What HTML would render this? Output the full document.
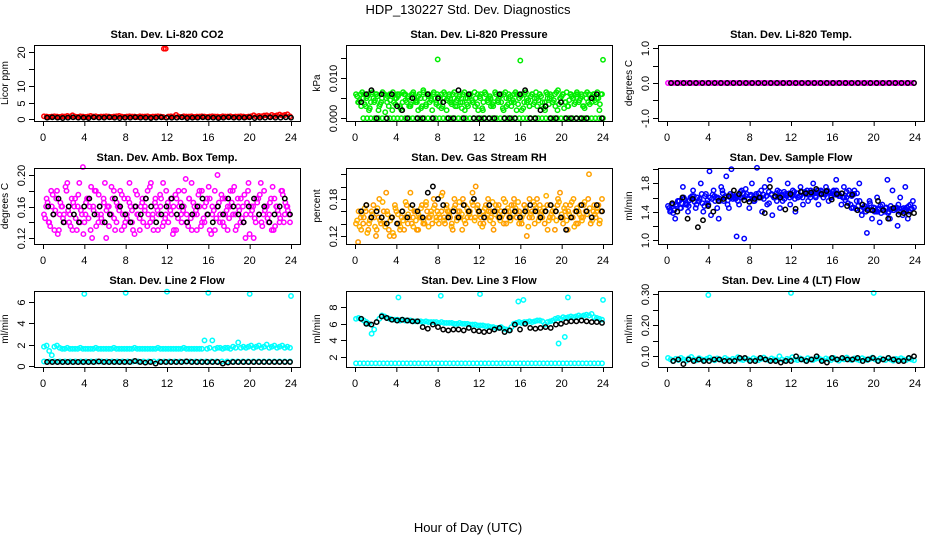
<!DOCTYPE html>
<html><head><meta charset="utf-8"><style>
html,body{margin:0;padding:0;background:#fff}
svg{display:block;font-family:"Liberation Sans",Arial,sans-serif}
</style></head><body>
<svg id="chart" width="936" height="540" viewBox="0 0 936 540" xmlns="http://www.w3.org/2000/svg">
<text x="468" y="14" text-anchor="middle" font-size="13">HDP_130227  Std. Dev. Diagnostics</text>
<text x="468" y="532" text-anchor="middle" font-size="13">Hour of Day (UTC)</text>
</svg>
<script>
const xTicks=[0,4,8,12,16,20,24];
// P1 CO2
const co2Red=[0.9,0.8,0.7,0.8,0.9,0.8,0.7,0.9,0.8,1.0,0.8,1.2,0.8,0.7,0.9,0.8,0.7,0.8,1.0,0.8,0.9,0.7,0.8,0.8,0.9,0.8,0.7,0.8,0.9,1.0,0.8,0.7,0.8,0.9,0.8,0.8,0.7,0.9,0.8,0.8,0.9,0.7,0.8,0.8,0.9,0.8,0.7,21.1,0.8,0.9,0.8,1.3,0.8,0.7,0.9,0.8,0.8,0.9,0.7,0.8,0.8,0.9,0.8,0.7,0.8,0.9,0.8,0.8,0.7,0.9,0.8,0.8,0.9,0.7,0.8,0.8,0.9,0.8,0.7,0.8,0.9,1.2,0.8,1.0,0.9,1.1,1.2,0.9,1.3,1.0,1.2,1.4,1.1,1.3,1.5,0.9];
const co2Black=[0.5,0.6,0.5,0.4,0.5,0.6,0.5,0.5,0.4,0.6,0.5,0.5,0.6,0.5,0.4,0.5,0.5,0.6,0.5,0.5,0.4,0.5,0.6,0.5,0.5,0.5,0.6,0.4,0.5,0.5,0.6,0.5,0.5,0.4,0.5,0.6,0.5,0.5,0.5,0.6,0.4,0.5,0.5,0.6,0.5,0.5,0.6,0.5];
// P2 Pressure
const presGreenA=[0.006,0.004,0.003,0.006,0.005,0.002,0.006,0.004,0.006,0.003,0.005,0.006,0.004,0.006,0.002,0.005,0.006,0.003,0.004,0.006,0.005,0.003,0.006,0.004,0.002,0.005,0.007,0.003,0.006,0.005,0.006,0.004,0.003,0.006,0.005,0.002,0.006,0.004,0.005,0.003,0.006,0.004,0.002,0.005,0.006,0.004,0.003,0.006,0.005,0.002,0.006,0.004,0.005,0.003,0.006,0.004,0.006,0.002,0.005,0.006,0.003,0.004,0.006,0.005,0.002,0.006,0.004,0.003,0.006,0.005,0.003,0.006,0.004,0.002,0.005,0.006,0.004,0.003,0.007,0.005,0.006,0.004,0.003,0.006,0.005,0.006,0.004,0.006,0.003,0.005,0.006,0.004,0.006,0.005,0.002,0.006];
const presGreenB=[0.004,0.006,0.005,0.003,0.006,0.004,0.005,0.006,0.002,0.004,0.006,0.005,0.003,0.006,0.004,0.005,0.006,0.002,0.006,0.004,0.003,0.006,0.005,0.004,0.006,0.003,0.005,0.006,0.004,0.002,0.005,0.006,0.004,0.003,0.006,0.005,0.004,0.006,0.003,0.005,0.004,0.006,0.005,0.003,0.006,0.004,0.005,0.002,0.006,0.004,0.006,0.005,0.003,0.004,0.006,0.005,0.004,0.006,0.003,0.005,0.004,0.006,0.002,0.005,0.006,0.004,0.005,0.003,0.006,0.004,0.005,0.006,0.003,0.004,0.006,0.005,0.004,0.006,0.002,0.005,0.006,0.004,0.003,0.006,0.005,0.004,0.006,0.005,0.003,0.006,0.004,0.005,0.006,0.004,0.005,0.006];
const presGreenC=[0.0055,0.0045,0.0065,0.0035,0.0055,0.0025,0.0065,0.0045,0.0055,0.0035,0.0065,0.0015,0.0055,0.0045,0.0065,0.0035,0.0055,0.0025,0.0065,0.0045,0.0055,0.0035,0.0065,0.0045,0.0055,0.0025,0.0065,0.0035,0.0055,0.0045,0.0065,0.0035,0.0055,0.0025,0.0065,0.0045,0.0055,0.0035,0.0065,0.0045,0.0055,0.0025,0.0065,0.0035,0.0055,0.0045,0.0065,0.0035,0.0055,0.0025,0.0065,0.0045,0.0055,0.0035,0.0065,0.0045,0.0055,0.0025,0.0065,0.0035,0.0055,0.0045,0.0065,0.0035,0.0055,0.0025,0.0065,0.0045,0.0055,0.0035,0.0065,0.0045,0.0055,0.0025,0.0065,0.0035,0.0055,0.0045,0.0065,0.0035,0.0055,0.0025,0.0065,0.0045,0.0055,0.0035,0.0065,0.0045,0.0055,0.0025,0.0065,0.0035,0.0055,0.0045,0.0065,0.0035];
const presGreenZero=[0,0,0,0,0,0,0,0,0,0,0,0,0,0,0,0,0,0,0,0,0,0,0,0,0,0,0,0,0,0,0,0,0,0,0,0,0,0,0,0,0,0,0,0,0,0,0,0,0,0,0,0,0,0,0,0,0,0,0,0,0,0,0,0];
const presOutHours=[8,16,24];
const presOutVals=[0.0147,0.0144,0.0146];
const presBlack=[0.004,0.006,0.007,0,0.006,0,0.006,0.003,0.002,0,0.005,0,0,0.006,0,0.005,0.004,0,0,0.007,0,0.006,0,0,0,0,0,0.006,0,0,0,0.006,0.007,0,0,0.002,0.003,0,0,0.004,0,0,0,0,0,0.005,0.006,0];
// P3 Temp
const tempMag=[0,0,0,0,0,0,0,0,0,0,0,0,0,0,0,0,0,0,0,0,0,0,0,0,0,0,0,0,0,0,0,0,0,0,0,0,0,0,0,0,0,0,0,0,0,0,0,0,0,0,0,0,0,0,0,0,0,0,0,0,0,0,0,0,0,0,0,0,0,0,0,0,0,0,0,0,0,0,0,0,0,0,0,0,0,0,0,0,0,0,0,0,0,0,0,0];
const tempBlack=[0,0,0,0,0,0,0,0,0,0,0,0,0,0,0,0,0,0,0,0,0,0,0,0,0,0,0,0,0,0,0,0,0,0,0,0,0,0,0,0];
// P4 Amb box temp
const ambA=[0.15,0.17,0.14,0.16,0.13,0.18,0.15,0.16,0.14,0.19,0.15,0.13,0.17,0.16,0.14,0.21,0.15,0.17,0.13,0.16,0.18,0.14,0.15,0.17,0.12,0.16,0.15,0.18,0.14,0.16,0.13,0.17,0.15,0.19,0.14,0.16,0.15,0.13,0.17,0.16,0.18,0.14,0.15,0.17,0.13,0.16,0.19,0.15,0.14,0.17,0.16,0.13,0.18,0.15,0.16,0.14,0.17,0.19,0.15,0.13,0.16,0.18,0.14,0.15,0.17,0.16,0.13,0.20,0.15,0.14,0.17,0.16,0.18,0.15,0.13,0.16,0.17,0.14,0.15,0.19,0.16,0.12,0.17,0.15,0.14,0.18,0.16,0.15,0.13,0.17,0.16,0.14,0.18,0.15,0.16,0.14];
const ambB=[0.16,0.14,0.18,0.15,0.17,0.13,0.16,0.15,0.18,0.14,0.17,0.16,0.13,0.19,0.15,0.14,0.17,0.16,0.12,0.18,0.15,0.16,0.14,0.19,0.16,0.15,0.17,0.13,0.16,0.18,0.15,0.14,0.17,0.16,0.13,0.18,0.15,0.16,0.14,0.17,0.15,0.19,0.13,0.16,0.15,0.17,0.14,0.18,0.16,0.15,0.13,0.17,0.16,0.14,0.18,0.15,0.17,0.13,0.16,0.15,0.18,0.14,0.16,0.17,0.13,0.15,0.18,0.16,0.14,0.17,0.15,0.13,0.16,0.18,0.15,0.17,0.14,0.16,0.12,0.18,0.15,0.16,0.14,0.17,0.19,0.15,0.16,0.14,0.17,0.13,0.16,0.15,0.18,0.14,0.16,0.15];
const ambC=[0.145,0.165,0.135,0.175,0.155,0.125,0.165,0.145,0.185,0.155,0.135,0.165,0.145,0.175,0.155,0.125,0.165,0.145,0.185,0.155,0.135,0.175,0.145,0.165,0.155,0.135,0.185,0.145,0.165,0.155,0.175,0.135,0.145,0.165,0.155,0.125,0.175,0.145,0.165,0.155,0.135,0.185,0.145,0.165,0.155,0.175,0.135,0.145,0.165,0.155,0.125,0.175,0.145,0.165,0.155,0.195,0.135,0.145,0.165,0.155,0.175,0.135,0.145,0.165,0.185,0.125,0.155,0.145,0.165,0.175,0.135,0.155,0.145,0.165,0.185,0.135,0.155,0.145,0.175,0.165,0.125,0.155,0.145,0.165,0.175,0.135,0.155,0.145,0.165,0.185,0.135,0.155,0.145,0.175,0.165,0.155];
const ambBlack=[0.16,0.15,0.17,0.14,0.16,0.15,0.14,0.16,0.17,0.15,0.16,0.14,0.15,0.17,0.16,0.15,0.14,0.16,0.15,0.17,0.16,0.14,0.15,0.16,0.17,0.15,0.16,0.14,0.15,0.16,0.17,0.15,0.14,0.16,0.15,0.17,0.16,0.15,0.14,0.16,0.17,0.15,0.16,0.14,0.15,0.16,0.17,0.15];
// P5 RH
const rhA=[0.14,0.16,0.13,0.15,0.17,0.14,0.16,0.15,0.13,0.18,0.15,0.14,0.16,0.12,0.15,0.17,0.14,0.13,0.16,0.15,0.14,0.19,0.15,0.16,0.13,0.15,0.14,0.17,0.15,0.16,0.18,0.15,0.14,0.16,0.15,0.17,0.16,0.14,0.18,0.15,0.16,0.13,0.17,0.15,0.16,0.19,0.15,0.17,0.14,0.16,0.15,0.18,0.16,0.14,0.17,0.15,0.16,0.18,0.14,0.16,0.15,0.17,0.16,0.14,0.15,0.17,0.16,0.18,0.15,0.14,0.16,0.17,0.15,0.16,0.13,0.17,0.15,0.16,0.18,0.15,0.14,0.17,0.16,0.15,0.18,0.14,0.16,0.15,0.17,0.16,0.22,0.15,0.17,0.16,0.14,0.18];
const rhB=[0.11,0.15,0.14,0.16,0.13,0.15,0.17,0.12,0.15,0.14,0.16,0.19,0.13,0.15,0.12,0.16,0.14,0.15,0.13,0.17,0.15,0.14,0.16,0.13,0.15,0.17,0.14,0.16,0.15,0.14,0.17,0.16,0.15,0.19,0.14,0.16,0.15,0.13,0.17,0.16,0.15,0.18,0.14,0.16,0.15,0.17,0.20,0.16,0.15,0.14,0.17,0.16,0.15,0.13,0.16,0.17,0.15,0.14,0.16,0.15,0.17,0.18,0.15,0.16,0.14,0.17,0.12,0.15,0.16,0.17,0.18,0.15,0.16,0.14,0.17,0.15,0.16,0.13,0.17,0.19,0.15,0.16,0.13,0.17,0.15,0.16,0.14,0.17,0.15,0.16,0.18,0.14,0.16,0.15,0.17,0.16];
const rhC=[0.145,0.135,0.155,0.165,0.125,0.145,0.155,0.135,0.165,0.145,0.175,0.135,0.155,0.145,0.125,0.165,0.155,0.135,0.145,0.175,0.155,0.165,0.135,0.145,0.155,0.165,0.145,0.175,0.135,0.155,0.165,0.145,0.155,0.185,0.145,0.165,0.155,0.135,0.165,0.145,0.175,0.155,0.145,0.165,0.155,0.175,0.145,0.165,0.155,0.135,0.165,0.155,0.145,0.175,0.155,0.165,0.145,0.155,0.175,0.165,0.145,0.155,0.165,0.175,0.145,0.155,0.165,0.135,0.155,0.175,0.165,0.145,0.155,0.165,0.185,0.145,0.155,0.165,0.145,0.175,0.155,0.165,0.145,0.155,0.175,0.135,0.165,0.155,0.145,0.175,0.155,0.165,0.145,0.155,0.165,0.145];
const rhBlack=[0.16,0.17,0.15,0.16,0.15,0.14,0.15,0.14,0.16,0.15,0.17,0.16,0.15,0.19,0.20,0.18,0.17,0.15,0.16,0.15,0.17,0.16,0.18,0.16,0.15,0.17,0.16,0.15,0.16,0.15,0.16,0.15,0.16,0.17,0.16,0.15,0.16,0.17,0.16,0.15,0.13,0.15,0.16,0.17,0.16,0.15,0.17,0.16];
// P6 Sample flow
const flowA=[1.48,1.42,1.38,1.5,1.55,1.45,1.6,1.52,1.48,1.58,1.62,1.5,1.55,1.65,1.48,1.52,1.97,1.58,1.62,1.45,1.55,1.7,1.6,1.5,1.65,1.58,1.62,1.55,1.68,1.6,1.72,1.58,1.62,1.55,1.65,1.6,1.7,1.58,1.62,1.52,1.65,1.6,1.55,1.68,1.62,1.58,1.65,1.6,1.62,1.58,1.66,1.62,1.6,1.68,1.64,1.6,1.66,1.62,1.7,1.64,1.6,1.66,1.68,1.62,1.65,1.7,1.62,1.66,1.6,1.68,1.64,1.62,1.7,1.66,1.55,1.5,1.48,1.45,1.52,1.42,1.45,1.4,1.48,1.42,1.45,1.38,1.48,1.42,1.45,1.5,1.4,1.45,1.42,1.48,1.44,1.46];
const flowB=[1.4,1.5,1.3,1.55,1.45,1.75,1.5,1.4,1.6,1.7,1.45,1.55,1.8,1.4,1.65,1.5,1.35,1.7,1.6,1.3,1.75,1.55,1.9,1.45,2.0,1.6,1.05,1.5,1.7,1.02,1.65,1.45,1.8,1.55,2.02,1.6,1.4,1.75,1.5,1.85,1.35,1.6,1.7,1.45,1.55,1.65,1.8,1.5,1.7,1.4,1.6,1.75,1.5,1.65,1.55,1.7,1.8,1.6,1.5,1.7,1.65,1.75,1.55,1.6,1.7,1.85,1.65,1.5,1.75,1.6,1.7,1.45,1.65,1.55,1.8,1.35,1.45,1.1,1.55,1.3,1.4,1.6,1.25,1.5,1.4,1.85,1.3,1.7,1.45,1.2,1.6,1.35,1.75,1.3,1.5,1.55];
const flowC=[1.45,1.5,1.42,1.48,1.55,1.52,1.58,1.5,1.56,1.62,1.54,1.6,1.58,1.52,1.62,1.56,1.6,1.64,1.55,1.6,1.58,1.66,1.62,1.56,1.6,1.64,1.58,1.62,1.6,1.66,1.62,1.58,1.64,1.6,1.62,1.66,1.6,1.64,1.62,1.68,1.64,1.6,1.66,1.62,1.64,1.68,1.62,1.66,1.64,1.68,1.66,1.62,1.68,1.66,1.7,1.64,1.68,1.66,1.7,1.66,1.68,1.64,1.7,1.66,1.68,1.64,1.66,1.62,1.6,1.56,1.52,1.5,1.46,1.44,1.48,1.42,1.46,1.4,1.44,1.42,1.46,1.4,1.44,1.38,1.42,1.46,1.4,1.44,1.42,1.46,1.4,1.44,1.42,1.46,1.4,1.44];
const flowBlack=[1.52,1.4,1.6,1.3,1.58,1.18,1.28,1.48,1.4,1.55,1.58,1.62,1.7,1.65,1.56,1.54,1.58,1.6,1.38,1.75,1.62,1.6,1.43,1.65,1.44,1.68,1.66,1.67,1.72,1.65,1.69,1.57,1.65,1.66,1.48,1.64,1.42,1.5,1.42,1.42,1.55,1.42,1.3,1.45,1.36,1.38,1.36,1.38];
// P7 Line 2
const l2Upper=[1.8,1.9,1.4,1.0,1.8,1.9,1.7,1.6,1.6,1.7,1.6,1.6,1.6,1.6,1.7,1.6,1.6,1.6,1.6,1.6,1.7,1.6,1.6,1.6,1.6,1.6,1.6,1.7,1.6,1.6,1.6,1.6,1.6,1.6,1.6,1.7,1.6,1.6,1.6,1.6,1.6,1.6,1.6,1.6,1.7,1.6,1.6,1.6,1.6,1.6,1.6,1.6,1.6,1.6,1.7,1.6,1.6,1.6,1.6,1.6,1.6,1.6,2.4,1.6,1.7,2.4,1.6,1.7,1.7,1.6,1.7,1.7,1.6,1.8,1.7,2.2,1.7,1.8,1.7,1.8,1.9,1.7,1.8,1.9,1.7,1.8,2.0,1.7,1.8,1.9,1.7,1.8,1.9,1.7,1.8,1.7];
const l2Lower=[0.4,0.4,0.4,0.4,0.4,0.4,0.4,0.4,0.4,0.4,0.4,0.4,0.4,0.4,0.4,0.4,0.4,0.4,0.4,0.4,0.4,0.4,0.4,0.4,0.4,0.4,0.4,0.4,0.4,0.4,0.4,0.4,0.4,0.4,0.4,0.4,0.4,0.4,0.4,0.4,0.4,0.4,0.4,0.4,0.4,0.4,0.4,0.4];
const l2OutHours=[4,8,12,16,20,24];
const l2OutVals=[6.8,6.9,7.0,6.9,6.8,6.6];
const l2Black=[0.35,0.35,0.35,0.35,0.35,0.35,0.35,0.35,0.35,0.35,0.4,0.35,0.35,0.35,0.35,0.35,0.35,0.45,0.35,0.3,0.35,0.2,0.35,0.35,0.35,0.35,0.35,0.4,0.35,0.35,0.35,0.35,0.35,0.35,0.2,0.3,0.35,0.35,0.35,0.35,0.35,0.35,0.35,0.35,0.35,0.35,0.35,0.35];
// P8 Line 3
const l3Upper=[6.6,6.7,6.6,6.4,6.2,6.0,4.8,5.3,6.2,6.6,7.0,6.9,6.7,6.6,6.5,6.5,6.5,6.4,6.5,6.4,6.4,6.4,6.3,6.3,6.3,6.3,6.2,6.3,6.2,6.2,6.2,6.2,6.1,6.2,6.1,6.1,6.1,6.1,6.0,6.0,6.1,6.0,6.0,6.0,5.9,5.9,5.9,5.8,5.8,5.8,5.7,5.7,5.6,5.6,5.5,5.5,5.6,5.4,5.3,5.2,5.6,6.0,6.1,6.2,6.1,6.2,6.2,6.3,6.2,6.3,6.4,6.4,6.3,5.9,6.2,6.3,6.4,6.6,6.7,6.6,6.8,6.7,6.8,6.9,6.8,6.9,7.0,6.9,7.0,7.1,7.0,7.2,6.8,6.7,6.6,6.5];
const l3Lower=[1.2,1.2,1.2,1.2,1.2,1.2,1.2,1.2,1.2,1.2,1.2,1.2,1.2,1.2,1.2,1.2,1.2,1.2,1.2,1.2,1.2,1.2,1.2,1.2,1.2,1.2,1.2,1.2,1.2,1.2,1.2,1.2,1.2,1.2,1.2,1.2,1.2,1.2,1.2,1.2,1.2,1.2,1.2,1.2,1.2,1.2,1.2,1.2,1.2,1.2,1.2,1.2,1.2,1.2,1.2,1.2,1.2,1.2,1.2,1.2,1.2,1.2,1.2,1.2];
const l3OutHours=[4.2,8.3,12.1,15.8,16.3,19.7,20.3,20.6,24];
const l3OutVals=[9.2,9.4,9.6,8.7,8.9,3.6,4.4,9.2,8.9];
const l3Black=[6.6,6.0,5.9,6.2,6.9,6.7,6.5,6.4,6.5,6.4,6.3,6.3,5.6,5.4,5.9,5.6,5.3,5.2,5.3,5.3,5.2,5.5,5.2,5.1,5.0,5.1,5.3,5.5,5.0,5.2,5.9,5.3,6.0,5.5,5.4,5.5,5.6,5.5,5.9,6.0,6.2,6.3,6.3,6.4,6.3,6.2,6.2,6.1];
// P9 Line 4
const l4Cyan=[0.095,0.09,0.085,0.092,0.088,0.095,0.09,0.086,0.093,0.098,0.09,0.087,0.094,0.09,0.088,0.092,0.096,0.09,0.087,0.093,0.09,0.088,0.095,0.09,0.086,0.092,0.09,0.097,0.09,0.088,0.093,0.09,0.087,0.094,0.09,0.088,0.092,0.096,0.09,0.087,0.093,0.09,0.088,0.1,0.09,0.086,0.092,0.09,0.097,0.09,0.088,0.093,0.09,0.087,0.094,0.09,0.088,0.092,0.095,0.09,0.087,0.093,0.09,0.088,0.095,0.09,0.086,0.092,0.09,0.096,0.09,0.088,0.093,0.09,0.087,0.094,0.09,0.088,0.092,0.096,0.09,0.087,0.093,0.09,0.088,0.095,0.09,0.086,0.092,0.09,0.094,0.09,0.088,0.093,0.09,0.087];
const l4OutHours=[4,12,20];
const l4OutVals=[0.298,0.305,0.305];
const l4Black=[0.085,0.09,0.075,0.09,0.085,0.09,0.085,0.085,0.09,0.09,0.085,0.085,0.085,0.095,0.095,0.085,0.085,0.095,0.09,0.085,0.085,0.08,0.085,0.085,0.1,0.09,0.085,0.09,0.1,0.085,0.08,0.095,0.09,0.095,0.09,0.09,0.095,0.085,0.09,0.095,0.085,0.09,0.095,0.09,0.085,0.085,0.095,0.1];

const COLS=[34,346,658], ROWS=[45,168,291], W=266, H=76;
const NS="http://www.w3.org/2000/svg";
const svg=document.getElementById('chart');
function mk(tag,attrs,parent){const e=document.createElementNS(NS,tag);for(const k in attrs)e.setAttribute(k,attrs[k]);(parent||svg).appendChild(e);return e;}

const panels=[
 {c:0,r:0,name:'co2',title:'Stan. Dev. Li-820 CO2',ylab:'Licor ppm',yd:[-0.5,22.2],ticks:[0,5,10,15,20],labels:['0','5','10','','20'],
  series:[[co2Red,'#ff0000',0.1,23.9],[co2Black,'#000000',0.4,24]],out:[[[11.7],[21.1],'#ff0000']]},
 {c:1,r:0,name:'pressure',title:'Stan. Dev. Li-820 Pressure',ylab:'kPa',yd:[-0.0007,0.0183],ticks:[0,0.005,0.01,0.015],labels:['0.000','','0.010',''],
  series:[[presGreenA,'#00ee00',0.1,23.9],[presGreenB,'#00ee00',0.3,23.8],[presGreenC,'#00ee00',0.2,23.7],[presGreenZero,'#00ee00',0.8,24],[presBlack,'#000000',0.6,23.9]],out:[[presOutHours,presOutVals,'#00ee00']]},
 {c:2,r:0,name:'temp',title:'Stan. Dev. Li-820 Temp.',ylab:'degrees C',yd:[-1.086,1.086],ticks:[-1,-0.5,0,0.5,1],labels:['-1.0','','0.0','','1.0'],
  series:[[tempMag,'#ff00ff',0.1,23.9],[tempBlack,'#000000',0.4,23.9]],out:[]},
 {c:0,r:1,name:'amb-box-temp',title:'Stan. Dev. Amb. Box Temp.',ylab:'degrees C',yd:[0.1124,0.2089],ticks:[0.12,0.14,0.16,0.18,0.20],labels:['0.12','','0.16','','0.20'],
  series:[[ambA,'#ff00ff',0.1,23.9],[ambB,'#ff00ff',0.3,23.8],[ambC,'#ff00ff',0.2,23.7],[ambBlack,'#000000',0.5,23.9]],out:[]},
 {c:1,r:1,name:'gas-stream-rh',title:'Stan. Dev. Gas Stream RH',ylab:'percent',yd:[0.107,0.230],ticks:[0.12,0.14,0.16,0.18,0.20,0.22],labels:['0.12','','','0.18','',''],
  series:[[rhA,'#ffa200',0.1,23.9],[rhB,'#ff9a00',0.3,23.8],[rhC,'#ffb000',0.2,23.7],[rhBlack,'#000000',0.6,23.9]],out:[]},
 {c:2,r:1,name:'sample-flow',title:'Stan. Dev. Sample Flow',ylab:'ml/min',yd:[0.943,2.017],ticks:[1.0,1.2,1.4,1.6,1.8,2.0],labels:['1.0','','1.4','','1.8',''],
  series:[[flowA,'#0000ff',0.1,23.9],[flowB,'#0000ff',0.3,23.8],[flowC,'#0000ff',0.2,23.7],[flowBlack,'#000000',0.5,23.9]],out:[]},
 {c:0,r:2,name:'line2-flow',title:'Stan. Dev. Line 2 Flow',ylab:'ml/min',yd:[-0.12,7.07],ticks:[0,2,4,6],labels:['0','2','4','6'],
  series:[[l2Upper,'#00ffff',0.1,23.9],[l2Lower,'#00ffff',0.1,23.9],[l2Black,'#000000',0.4,23.9]],out:[[l2OutHours,l2OutVals,'#00ffff']]},
 {c:1,r:2,name:'line3-flow',title:'Stan. Dev. Line 3 Flow',ylab:'ml/min',yd:[0.75,9.98],ticks:[2,4,6,8],labels:['2','4','6','8'],
  series:[[l3Upper,'#00ffff',0.1,23.9],[l3Lower,'#00ffff',0.1,23.9],[l3Black,'#000000',0.6,23.9]],out:[[l3OutHours,l3OutVals,'#00ffff']]},
 {c:2,r:2,name:'line4-flow',title:'Stan. Dev. Line 4 (LT) Flow',ylab:'ml/min',yd:[0.0655,0.311],ticks:[0.10,0.15,0.20,0.25,0.30],labels:['0.10','','0.20','','0.30'],
  series:[[l4Cyan,'#00ffff',0.1,23.9],[l4Black,'#000000',0.6,23.9]],out:[[l4OutHours,l4OutVals,'#00ffff']]}
];

panels.forEach(p=>{
  const L=COLS[p.c], T=ROWS[p.r], B=T+H;
  const xs=h=>L+9+h*248/24;
  const ys=v=>B-(v-p.yd[0])/(p.yd[1]-p.yd[0])*H;
  const g=mk('g',{});
  
  
  const t=mk('text',{x:L+W/2,y:T-7,'text-anchor':'middle','font-size':'11','font-weight':'bold'},g);
  t.textContent=p.title;
  
  
  const yl=mk('text',{x:0,y:0,transform:`translate(${L-26},${T+H/2}) rotate(-90)`,'text-anchor':'middle','font-size':'10'},g);
  yl.textContent=p.ylab;
  
  
  const pts=mk('g',{fill:'none','stroke-width':'1.5'},g);
  
  
  p.series.forEach(s=>{
    const vals=s[0],n=vals.length;
    vals.forEach((v,i)=>{
      const h=s[2]+i*(s[3]-s[2])/(n-1);
      const c=mk('circle',{cx:xs(h).toFixed(1),cy:ys(v).toFixed(1),r:2.2,stroke:s[1]},pts);
      
      
    });
  });
  p.out.forEach(o=>{
    o[0].forEach((h,i)=>{
      const c=mk('circle',{cx:xs(h).toFixed(1),cy:ys(o[1][i]).toFixed(1),r:2.2,stroke:o[2]},pts);
      
      
    });
  });
  const box=mk('rect',{x:L+0.5,y:T+0.5,width:W,height:H,fill:'none',stroke:'#000','stroke-width':'1'},g);
  
  
  const xa=mk('g',{stroke:'#000','stroke-width':'1'},g);
  
  
  mk('line',{x1:xs(0),y1:B+0.5,x2:xs(24),y2:B+0.5},xa);
  xTicks.forEach(h=>{
    mk('line',{x1:xs(h)+0.5,y1:B,x2:xs(h)+0.5,y2:B+5},xa);
    const tl=mk('text',{x:xs(h),y:B+20,'text-anchor':'middle','font-size':'11',stroke:'none',fill:'#000'},g);
    tl.textContent=h;
    
    
  });
  const ya=mk('g',{stroke:'#000','stroke-width':'1'},g);
  
  
  mk('line',{x1:L+0.5,y1:ys(p.ticks[0]),x2:L+0.5,y2:ys(p.ticks[p.ticks.length-1])},ya);
  p.ticks.forEach((v,i)=>{
    const y=Math.round(ys(v))+0.5;
    mk('line',{x1:L-5,y1:y,x2:L,y2:y},ya);
    if(p.labels[i]){
      const tl=mk('text',{x:0,y:0,transform:`translate(${L-9},${y}) rotate(-90)`,'text-anchor':'middle','font-size':'11',fill:'#000'},g);
      tl.textContent=p.labels[i];
      
      
    }
  });
});
</script>
</body></html>
